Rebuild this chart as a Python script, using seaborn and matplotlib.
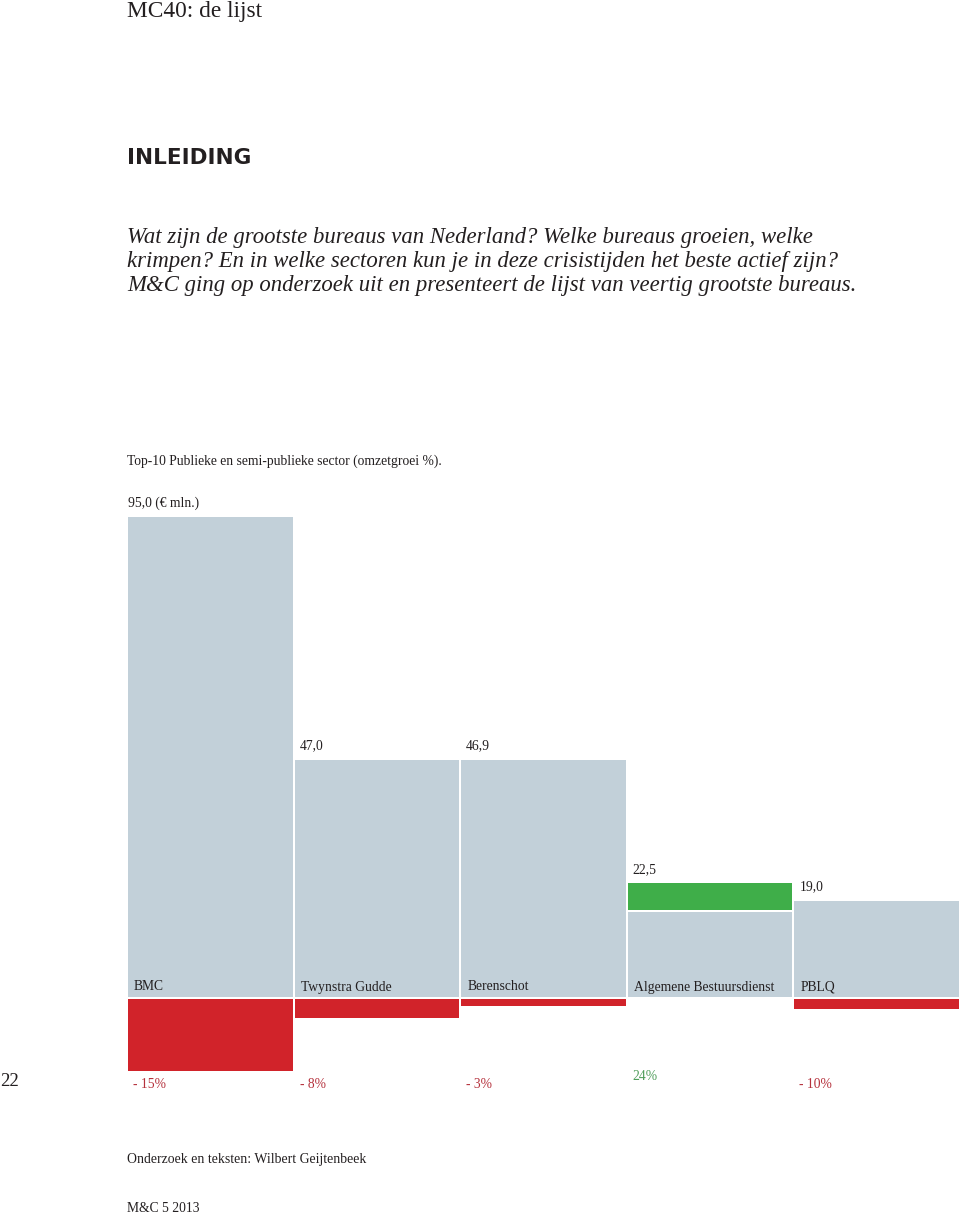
import matplotlib
matplotlib.use("Agg")
import matplotlib.pyplot as plt
import seaborn as sns
import numpy as np

# ---- data ----
categories = ["BMC", "Twynstra Gudde", "Berenschot", "Algemene Bestuursdienst", "PBLQ"]
revenue = [95.0, 47.0, 46.9, 22.5, 19.0]          # € mln.
growth_pct = [-15, -8, -3, 24, -10]               # omzetgroei %
value_labels = ["95,0 (€ mln.)", "47,0", "46,9", "22,5", "19,0"]
growth_labels = ["- 15%", "- 8%", "- 3%", "24%", "- 10%"]

GRAY = "#c2d0d9"
RED = "#d1232a"
GREEN = "#3fae49"
DARK = "#231f20"
RED_TXT = "#b5313c"
GREEN_TXT = "#4f9d5a"

sns.set_theme(style="white")
plt.rcParams["font.family"] = ["Liberation Serif", "DejaVu Serif"]

W, H = 960, 1216
fig = plt.figure(figsize=(W / 100, H / 100), dpi=100)
fig.patch.set_facecolor("white")

def fx(px):
    return px / W

def fy(py):
    return 1 - py / H

# ---- header texts ----
fig.text(fx(127), fy(12), "MC40: de lijst", fontsize=16.8, color=DARK, va="center", ha="left")
fig.text(fx(127), fy(158), "INLEIDING", fontsize=15.5, color=DARK, va="center", ha="left",
         family=["DejaVu Sans"], weight="bold")

intro = [
    "Wat zijn de grootste bureaus van Nederland? Welke bureaus groeien, welke",
    "krimpen? En in welke sectoren kun je in deze crisistijden het beste actief zijn?",
    "M&C ging op onderzoek uit en presenteert de lijst van veertig grootste bureaus.",
]
for i, line in enumerate(intro):
    fig.text(fx(127), fy(237 + 24 * i), line, fontsize=16.4, style="italic",
             color=DARK, va="center", ha="left")

fig.text(fx(127), fy(461), "Top-10 Publieke en semi-publieke sector (omzetgroei %).",
         fontsize=9.8, color=DARK, va="center", ha="left")

# ---- chart axes ----
k = (997 - 517) / 95.0        # px per unit
top_px, bot_px, base_px = 500, 1100, 997
ax = fig.add_axes([fx(127), fy(bot_px), fx(960 - 127), (bot_px - top_px) / H])
sns.barplot(x=categories, y=revenue, ax=ax, color=GRAY, saturation=1,
            width=0.988, linewidth=0, zorder=1)
ax.set_xlim(-0.5, len(categories) - 0.5)
ax.set_ylim(-(bot_px - base_px) / k, (base_px - top_px) / k)
ax.axis("off")

x = np.arange(len(categories))
gap = 2 / k
growth_amount = [r * g / 100 for r, g in zip(revenue, growth_pct)]
for xi, r, ga in zip(x, revenue, growth_amount):
    if ga < 0:
        ax.bar(xi, ga, bottom=-gap, width=0.988, color=RED, linewidth=0, zorder=2)
    else:
        ax.bar(xi, ga, bottom=r - ga, width=0.988, color=GREEN, linewidth=0, zorder=2)
        ax.bar(xi, gap, bottom=r - ga - gap / 2, width=0.988, color="white",
               linewidth=0, zorder=3)

half = 0.988 / 2
px_unit_x = (960 - 127) / len(categories)
for i, (xi, r) in enumerate(zip(x, revenue)):
    left = xi - half
    # value labels
    vx = left if i == 0 else left + 5 / px_unit_x
    ax.text(vx, r + 14 / k, value_labels[i], fontsize=9.8, color=DARK,
            ha="left", va="center", clip_on=False)
    # category labels inside bar
    ax.text(left + 6 / px_unit_x, 10 / k, categories[i], fontsize=9.8, color=DARK,
            ha="left", va="center", clip_on=False)
    # growth labels
    pos = growth_pct[i] > 0
    gy = -(1077 - base_px) / k if pos else -(1084 - base_px) / k
    ax.text(left + 5 / px_unit_x, gy, growth_labels[i], fontsize=9.8,
            color=GREEN_TXT if pos else RED_TXT, ha="left", va="center", clip_on=False)

# ---- footer texts ----
fig.text(fx(0), fy(1082), "22", fontsize=13.5, color=DARK, va="center", ha="left")
fig.text(fx(127), fy(1159), "Onderzoek en teksten: Wilbert Geijtenbeek",
         fontsize=9.9, color=DARK, va="center", ha="left")
fig.text(fx(127), fy(1208), "M&C 5 2013", fontsize=9.8, color=DARK, va="center", ha="left")

fig.savefig("out.png", dpi=100, facecolor="white")
